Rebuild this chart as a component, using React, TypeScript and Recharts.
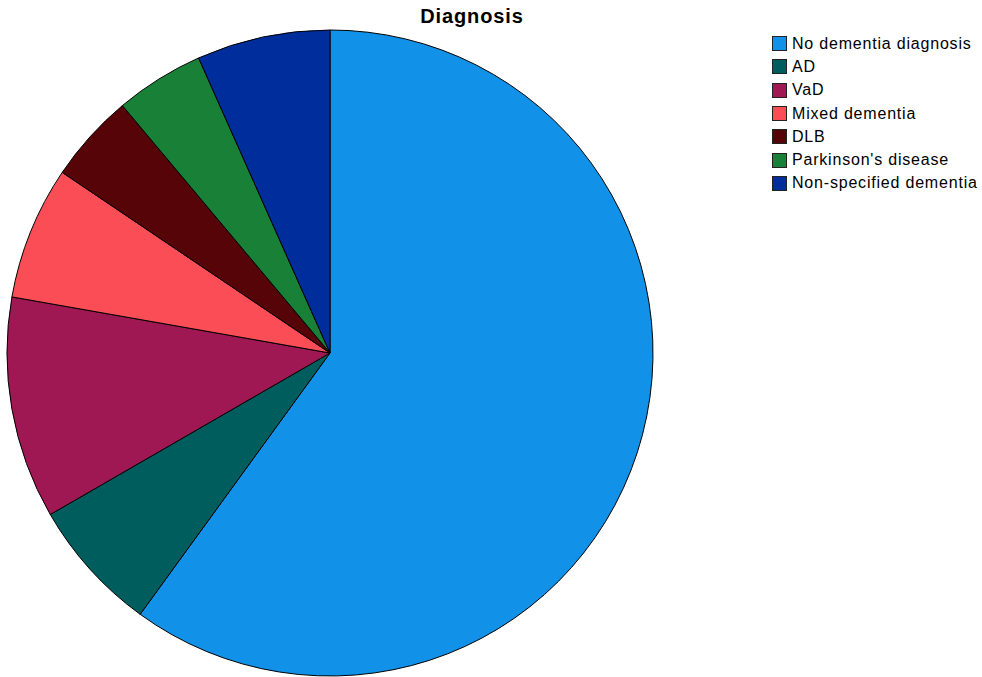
import { PieChart, Pie, Cell, Legend } from 'recharts';

const categories = [
  'No dementia diagnosis',
  'AD',
  'VaD',
  'Mixed dementia',
  'DLB',
  "Parkinson's disease",
  'Non-specified dementia',
];
const counts = [27, 3, 5, 3, 2, 2, 3];
const colors = ['#1192E8', '#005D5D', '#9F1853', '#FA4D56', '#570408', '#198038', '#002D9C'];

const data = categories.map((name, i) => ({ name, value: counts[i] }));

function DiagnosisLegend() {
  return (
    <div style={{ fontFamily: '"Liberation Sans", Arial, sans-serif', fontSize: 16, letterSpacing: 0.8, color: '#000' }}>
      {data.map((d, i) => (
        <div key={d.name} style={{ display: 'flex', alignItems: 'center', height: 23.3, whiteSpace: 'nowrap' }}>
          <span
            style={{
              display: 'inline-block',
              flexShrink: 0,
              width: 15,
              height: 15,
              background: colors[i],
              border: '1px solid #222',
              marginRight: 5,
              boxSizing: 'border-box',
            }}
          />
          {d.name}
        </div>
      ))}
    </div>
  );
}

export default function App() {
  return (
    <div style={{ position: 'absolute', left: 0, top: 0, width: 982, height: 677, background: '#fff', overflow: 'hidden' }}>
      <PieChart width={982} height={677} margin={{ top: 0, right: 0, bottom: 0, left: 0 }}>
        <text
          x={472}
          y={23}
          textAnchor="middle"
          style={{ fontFamily: '"Liberation Sans", Arial, sans-serif', fontSize: 20, fontWeight: 'bold', letterSpacing: 0.9 }}
        >
          Diagnosis
        </text>
        <Pie
          data={data}
          dataKey="value"
          nameKey="name"
          cx={330}
          cy={353}
          outerRadius={323}
          startAngle={90}
          endAngle={-270}
          stroke="#000"
          strokeWidth={1}
          isAnimationActive={false}
        >
          {data.map((d, i) => (
            <Cell key={d.name} fill={colors[i]} />
          ))}
        </Pie>
        <Legend
          layout="vertical"
          content={() => <DiagnosisLegend />}
          wrapperStyle={{ position: 'absolute', left: 772, top: 32, width: 210 }}
        />
      </PieChart>
    </div>
  );
}
